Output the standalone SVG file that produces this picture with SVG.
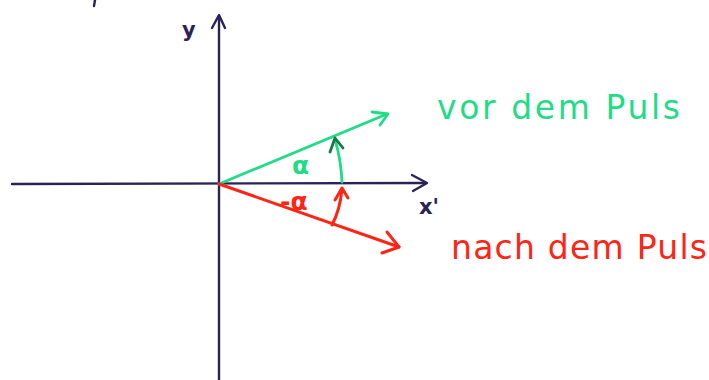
<svg xmlns="http://www.w3.org/2000/svg" width="709" height="380" viewBox="0 0 709 380">
<style>
.ax{stroke:#2b2358;stroke-width:2.4;fill:none;stroke-linecap:round;stroke-linejoin:round}
.g{stroke:#1fdc86;stroke-width:2.8;fill:none;stroke-linecap:round;stroke-linejoin:round}
.gd{stroke:#137a45;stroke-width:2.8;fill:none;stroke-linecap:round;stroke-linejoin:round}
.r{stroke:#ff2416;stroke-width:3;fill:none;stroke-linecap:round;stroke-linejoin:round}
.lbl{font-family:"DejaVu Sans",sans-serif}
</style>
<rect width="709" height="380" fill="#ffffff"/>
<path class="ax" d="M95,0 L94,6" stroke-width="3"/>
<g id="axes">
<g id="y-axis">
<path class="ax" d="M219,380 L219,16"/>
<path class="ax" d="M212,28 L219,15 L225,28"/>
<text class="lbl" x="182" y="37" font-size="21" font-weight="bold" fill="#2b2358">y</text>
</g>
<g id="x-axis">
<path class="ax" d="M12,184 L426,183"/>
<path class="ax" d="M412,175 L427,183 L413,191"/>
<text class="lbl" x="419" y="214" font-size="21" font-weight="bold" fill="#2b2358">x'</text>
</g>
</g>
<g id="connectors">
<g id="vec-vor">
<path class="g" d="M219,184 L387,114"/>
<path class="g" d="M372,112 L388,114 L380,125"/>
</g>
<g id="vec-nach">
<path class="r" d="M219,184 L399,247"/>
<path class="r" d="M387,232 L399,247 L382,253"/>
</g>
<g id="arc-alpha">
<path class="g" d="M342,182 Q341,160 335,139"/>
<path class="gd" d="M330,152 L335,138 L343,148"/>
</g>
<g id="arc-minus-alpha">
<path class="r" d="M332,225 Q340,210 342,189"/>
<path class="r" d="M335,200 L342,188 L348,198"/>
</g>
</g>
<g id="label-alpha">
<text class="lbl" x="292" y="174" font-size="25" font-weight="bold" fill="#1fdc86">α</text>
</g>
<g id="label-minus-alpha">
<text class="lbl" x="280" y="210" font-size="25" font-weight="bold" fill="#ff2416">-α</text>
</g>
<g id="label-vor">
<text class="lbl" x="437" y="119" font-size="33" fill="#1fdc86" textLength="243" lengthAdjust="spacing">vor dem Puls</text>
</g>
<g id="label-nach">
<text class="lbl" x="451" y="259" font-size="33" fill="#ff2416" textLength="256" lengthAdjust="spacing">nach dem Puls</text>
</g>
</svg>
